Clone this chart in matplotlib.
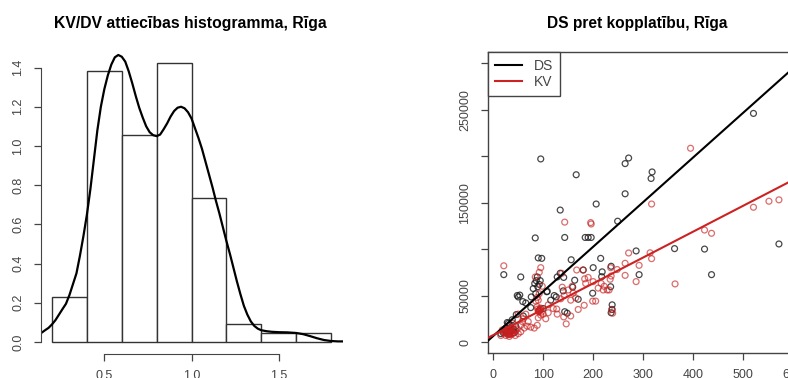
import matplotlib
matplotlib.use("Agg")
from matplotlib import pyplot as plt
import numpy as np

plt.rcParams['font.family'] = ['Liberation Sans', 'DejaVu Sans']

# KV/DV ratio histogram (density scale, bins of 0.2)
bin_edges = [0.2, 0.4, 0.6, 0.8, 1.0, 1.2, 1.4, 1.6, 1.8]
bin_density = [0.23, 1.38, 1.057, 1.424, 0.733, 0.092, 0.046, 0.046]

# kernel density curve over the ratio
kde_x = [0.135, 0.16, 0.18, 0.20, 0.22, 0.24, 0.26, 0.28, 0.30, 0.32,
         0.34, 0.36, 0.38, 0.40, 0.42, 0.44, 0.46, 0.48, 0.50, 0.52,
         0.54, 0.56, 0.58, 0.60, 0.62, 0.64, 0.66, 0.68, 0.70, 0.72,
         0.74, 0.76, 0.78, 0.80, 0.82, 0.84, 0.86, 0.88, 0.90, 0.92,
         0.94, 0.96, 0.98, 1.00, 1.02, 1.04, 1.06, 1.08, 1.10, 1.12,
         1.14, 1.16, 1.18, 1.20, 1.22, 1.24, 1.26, 1.28, 1.30, 1.32,
         1.34, 1.36, 1.38, 1.40, 1.43, 1.46, 1.50, 1.55, 1.60, 1.64,
         1.68, 1.72, 1.76, 1.80, 1.84, 1.867]
kde_y = [0.044, 0.060, 0.072, 0.090, 0.112, 0.140, 0.168, 0.195, 0.240, 0.295,
         0.350, 0.440, 0.540, 0.650, 0.780, 0.930, 1.080, 1.200, 1.290, 1.360,
         1.415, 1.452, 1.464, 1.455, 1.430, 1.380, 1.320, 1.255, 1.195, 1.145,
         1.100, 1.070, 1.055, 1.050, 1.058, 1.085, 1.115, 1.150, 1.178, 1.195,
         1.200, 1.192, 1.172, 1.140, 1.090, 1.040, 0.985, 0.920, 0.855, 0.790,
         0.720, 0.655, 0.585, 0.515, 0.450, 0.380, 0.310, 0.245, 0.185, 0.140,
         0.105, 0.082, 0.068, 0.060, 0.055, 0.052, 0.050, 0.049, 0.046, 0.040,
         0.030, 0.019, 0.010, 0.005, 0.003, 0.003]

# DS against total area
ds_area = [521, 95, 166, 264, 271, 316, 318, 264, 206, 134, 249, 84, 143, 184, 190,
           196, 90, 97, 286, 215, 363, 423, 572, 437, 21, 55, 156, 180, 236, 218,
           217, 292, 163, 134, 141, 108, 107, 199, 235, 48, 50, 126, 159, 238, 238,
           236, 143, 148, 75, 59, 46, 28, 83, 89, 86, 92, 80, 76, 88, 94,
           85, 65, 53, 30, 33, 25, 35, 20, 40, 45, 15, 28, 38, 60, 100,
           115, 122, 170, 128, 140, 200, 24, 32, 42]
ds_price = [246000, 197000, 180000, 192000, 198000, 176000, 183000, 159500, 148500, 142000,
            130000, 112000, 112500, 112500, 112500, 112500, 90500, 90000, 98000, 90000,
            100500, 100000, 105500, 72500, 72500, 70000, 88500, 77500, 81500, 75500,
            70300, 72500, 66500, 74000, 69500, 54500, 54100, 52500, 59500, 50000,
            48500, 48500, 59000, 40000, 35000, 31500, 32600, 31000, 37000, 43500,
            29500, 21000, 63000, 59500, 66000, 62000, 57500, 48500, 70000, 66000,
            52000, 42000, 50500, 20000, 18000, 15000, 12000, 10000, 14000, 17000,
            9000, 11000, 24000, 28000, 36000, 45000, 50000, 46000, 70000, 55000,
            80000, 12500, 8500, 10000]

# KV against total area
kv_area = [395, 317, 143, 195, 196, 521, 552, 572, 423, 437, 314, 317, 271, 264, 292,
           286, 364, 264, 248, 21, 95, 167, 180, 183, 190, 216, 220, 228, 232, 236,
           234, 199, 205, 182, 146, 141, 127, 138, 110, 160, 165, 135, 239, 237, 137,
           142, 150, 155, 158, 185, 200, 210, 222, 235, 128, 120, 100, 90, 170, 155,
           95, 90, 92, 94, 88, 96, 93, 85, 88, 92, 90, 84, 92, 98, 82,
           88, 75, 70, 60, 55, 50, 45, 40, 35, 30, 28, 25, 32, 36, 22,
           18, 15, 30, 34, 38, 42, 26, 29, 33, 48, 55, 62, 68, 50, 44,
           58, 65, 105, 110, 27, 31, 35, 24, 29, 33, 37, 40, 91, 93, 95,
           89, 92]
kv_price = [208500, 148500, 129000, 128500, 127000, 145000, 151500, 153000, 120500, 117000,
            96000, 89700, 95800, 84700, 82500, 65000, 62500, 71700, 78000, 82000,
            80000, 77500, 77500, 68000, 69500, 63000, 56000, 56000, 56000, 71000,
            67500, 44000, 44000, 39500, 19500, 27000, 35500, 59000, 31500, 52500,
            47500, 46500, 31000, 35000, 73900, 50000, 56000, 45000, 60000, 63000,
            65000, 58000, 60000, 80000, 30000, 36000, 30000, 26000, 35000, 28000,
            29000, 33000, 34000, 36000, 38000, 32000, 35000, 44000, 48000, 52000,
            45000, 70000, 75000, 60000, 15000, 18000, 16000, 22000, 25000, 18000,
            30000, 12000, 20000, 15000, 12000, 9000, 7000, 6000, 8000, 10000,
            13000, 7000, 10000, 11000, 9000, 13000, 14000, 8000, 13000, 14000,
            11000, 15000, 17000, 9000, 7000, 22000, 30000, 25000, 40000, 11000,
            12500, 10500, 9500, 13500, 8500, 11500, 10000, 33500, 34500, 36500,
            35500, 32500]

# linear fits (intercept, slope)
ds_fit = (6500, 480)
kv_fit = (7500, 278)

grey = '#444444'
fig = plt.figure(figsize=(7.88, 3.78), dpi=100)

# ---- histogram ----
ax1 = fig.add_axes([40.7 / 788, 24.5 / 378, 302 / 788, 309.5 / 378])
ax1.bar(bin_edges[:-1], bin_density, width=0.2, align='edge',
        facecolor='white', edgecolor='#333333', linewidth=1.0)
ax1.plot(kde_x, kde_y, color='black', linewidth=1.6)
ax1.set_xlim(0.135, 1.867)
ax1.set_ylim(-0.0587, 1.52)
for s in ['top', 'right']:
    ax1.spines[s].set_visible(False)
ax1.spines['left'].set_bounds(0, 1.4)
ax1.spines['bottom'].set_bounds(0.5, 1.5)
ax1.set_xticks([0.5, 1.0, 1.5])
ax1.set_xticklabels(['0.5', '1.0', '1.5'])
ax1.set_yticks(np.arange(0, 1.41, 0.2))
ax1.set_yticklabels(['%.1f' % v for v in np.arange(0, 1.41, 0.2)], rotation=90, va='center')
for s in ['left', 'bottom']:
    ax1.spines[s].set_color(grey)
ax1.tick_params(direction='out', length=5, width=0.9, color=grey,
                labelcolor=grey, labelsize=9, pad=7)
fig.text(190.7 / 788, 1 - 23.5 / 378, 'KV/DV attiecības histogramma, Rīga',
         ha='center', va='center', fontsize=11.3, fontweight='bold')

# ---- scatter ----
ax2 = fig.add_axes([487.7 / 788, 25.3 / 378, 322.3 / 788, 300.4 / 378])
ax2.scatter(ds_area, ds_price, s=18, facecolors='none',
            edgecolors=(0.1, 0.1, 0.1, 0.8), linewidths=0.9, zorder=2)
ax2.scatter(kv_area, kv_price, s=18, facecolors='none',
            edgecolors=(0.78, 0.12, 0.12, 0.65), linewidths=0.9, zorder=3)
ax2.axline((0, ds_fit[0]), slope=ds_fit[1], color='black', linewidth=1.5, label='DS', zorder=4)
ax2.axline((0, kv_fit[0]), slope=kv_fit[1], color='#cc2222', linewidth=1.5, label='KV', zorder=4)
ax2.set_xlim(-11.2, 634.2)
ax2.set_ylim(-11515, 311774)
ax2.set_xticks(np.arange(0, 601, 100))
yt = np.arange(0, 300001, 50000)
ax2.set_yticks(yt)
ax2.set_yticklabels(['0', '50000', '', '150000', '', '250000', ''], rotation=90, va='center')
for s in ax2.spines.values():
    s.set_color(grey)
    s.set_linewidth(1.0)
ax2.tick_params(direction='out', length=5, width=0.9, color=grey,
                labelcolor=grey, labelsize=9, pad=7)
leg = ax2.legend(loc='upper left', borderaxespad=0, fancybox=False, framealpha=1,
                 edgecolor=grey, fontsize=10, handlelength=2.0, handletextpad=0.8,
                 labelspacing=0.15, borderpad=0.5)
for t in leg.get_texts():
    t.set_color(grey)
leg.get_frame().set_linewidth(1.0)
fig.text(637 / 788, 1 - 23.5 / 378, 'DS pret kopplatību, Rīga',
         ha='center', va='center', fontsize=11.2, fontweight='bold')

fig.savefig('out.png', dpi=100)
